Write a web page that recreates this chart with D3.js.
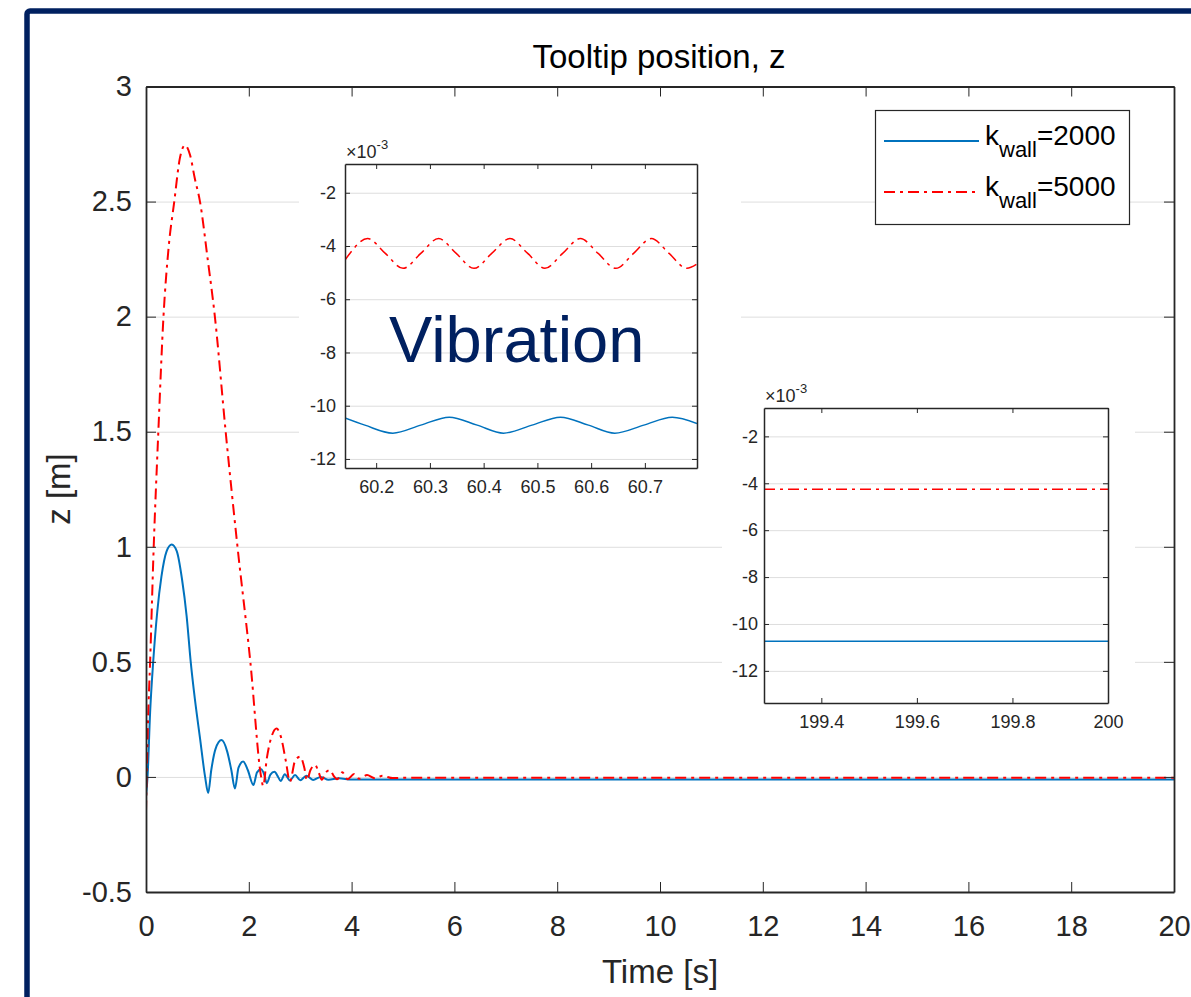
<!DOCTYPE html>
<html>
<head>
<meta charset="utf-8">
<script src="https://cdn.jsdelivr.net/npm/d3@7"></script>
<style>
  body { margin: 0; background: #fff; }
  svg text { font-family: "Liberation Sans", Arial, sans-serif; }
  .axis path, .axis line { stroke: #262626; }
  .axis text { fill: #262626; }
  .grid line { stroke: #dedede; }
  .grid path { display: none; }
</style>
</head>
<body>
<svg id="chart" width="1191" height="997"></svg>
<script>
// ---- data ----
const timeTicks = [0, 2, 4, 6, 8, 10, 12, 14, 16, 18, 20];
const zTicks = [-0.5, 0, 0.5, 1, 1.5, 2, 2.5, 3];

// [time s, z m]
const k2000 = [[0,-0.085],[0.03,0.0],[0.08,0.28],[0.14,0.5],[0.22,0.72],[0.3,0.87],[0.4,0.98],[0.5,1.01],
  [0.6,0.98],[0.7,0.86],[0.79,0.7],[0.87,0.5],[0.95,0.34],[1.05,0.17],[1.15,0.0],[1.21,-0.07],[1.27,0.03],
  [1.35,0.12],[1.47,0.16],[1.58,0.11],[1.66,0.03],[1.73,-0.05],[1.8,0.04],[1.89,0.067],[1.98,0.03],
  [2.09,-0.035],[2.16,0.02],[2.24,0.033],[2.3,0.01],[2.35,-0.027],[2.42,0.01],[2.5,0.022],[2.57,0.0],
  [2.62,-0.018],[2.7,0.012],[2.8,-0.015],[2.9,0.008],[3.0,-0.014],[3.12,0.005],[3.25,-0.013],[3.4,0.0],
  [3.55,-0.012],[3.75,-0.006],[4.0,-0.011],[20,-0.011]];
const k5000 = [[0,-0.15],[0.04,0.25],[0.08,0.5],[0.15,1.0],[0.24,1.5],[0.34,2.0],[0.44,2.3],[0.55,2.5],
  [0.66,2.69],[0.76,2.745],[0.86,2.7],[0.95,2.6],[1.05,2.5],[1.2,2.25],[1.34,2.0],[1.55,1.5],[1.78,1.0],
  [2.03,0.5],[2.24,0.0],[2.28,-0.04],[2.35,0.08],[2.45,0.18],[2.54,0.21],[2.63,0.17],[2.72,0.07],
  [2.8,-0.02],[2.9,0.07],[3.0,0.088],[3.08,0.04],[3.13,-0.015],[3.2,0.03],[3.29,0.052],[3.36,0.02],
  [3.42,-0.012],[3.5,0.02],[3.58,0.03],[3.65,0.005],[3.72,-0.01],[3.82,0.02],[3.92,-0.01],[4.05,0.013],
  [4.15,-0.008],[4.3,0.008],[4.45,-0.006],[4.6,0.005],[4.8,-0.005],[5.0,-0.004],[20,-0.004]];

// inset around t = 60 s (z in 1e-3 m)
const vibTicksX = [60.2, 60.3, 60.4, 60.5, 60.6, 60.7];
const vibTicksY = [-12, -10, -8, -6, -4, -2];
const vib2000 = [[60.142,-10.46],[60.179,-10.73],[60.231,-11.03],[60.283,-10.73],[60.336,-10.43],
  [60.388,-10.73],[60.437,-11.03],[60.49,-10.73],[60.543,-10.43],[60.595,-10.73],[60.644,-11.03],
  [60.698,-10.73],[60.751,-10.43],[60.797,-10.67]];
const vib5000 = [[60.142,-4.53],[60.151,-4.28],[60.184,-3.72],[60.217,-4.28],[60.25,-4.84],[60.283,-4.28],
  [60.316,-3.72],[60.349,-4.28],[60.382,-4.84],[60.415,-4.28],[60.449,-3.72],[60.482,-4.28],[60.514,-4.84],
  [60.547,-4.28],[60.58,-3.72],[60.613,-4.28],[60.646,-4.84],[60.679,-4.28],[60.712,-3.72],[60.745,-4.28],
  [60.778,-4.84],[60.797,-4.68]];

// inset at the end of the run
const endTicksX = [199.4, 199.6, 199.8, 200];
const endTicksY = [-12, -10, -8, -6, -4, -2];
const end2000 = [[199.28,-10.74],[200,-10.74]];
const end5000 = [[199.28,-4.26],[200,-4.26]];

const seriesK = ['2000', '5000'];

// ---- drawing ----
const svg = d3.select('#chart');
const FONT = '"Liberation Sans", Arial, sans-serif';
const styles = [
  { stroke: '#0072BD', dash: null },
  { stroke: '#FF0000', dash: '11,5,3,5' }
];

function panel(o) {
  const g = svg.append('g');
  const x = d3.scaleLinear().domain(o.xDomain).range([o.left, o.right]);
  const y = d3.scaleLinear().domain(o.yDomain).range([o.bottom, o.top]);
  const w = o.right - o.left;
  const h = o.bottom - o.top;

  if (o.bg) {
    g.append('rect').attr('x', o.bg[0]).attr('y', o.bg[1])
      .attr('width', o.bg[2] - o.bg[0]).attr('height', o.bg[3] - o.bg[1]).attr('fill', '#fff');
  }

  g.append('g').attr('class', 'grid')
    .attr('transform', `translate(${o.left},0)`)
    .call(d3.axisLeft(y).tickValues(o.yTicks).tickSize(-w).tickFormat(''));

  g.append('clipPath').attr('id', o.id)
    .append('rect').attr('x', o.left).attr('y', o.top).attr('width', w).attr('height', h);

  const line = d3.line().x(d => x(d[0])).y(d => y(d[1])).curve(d3.curveMonotoneX);
  o.series.forEach((s, i) => {
    g.append('path').datum(s)
      .attr('clip-path', `url(#${o.id})`)
      .attr('fill', 'none')
      .attr('stroke', styles[i].stroke)
      .attr('stroke-width', o.lw)
      .attr('stroke-dasharray', styles[i].dash)
      .attr('d', line);
  });

  const fmt = d => String(d);
  const axes = [
    [d3.axisBottom(x).tickValues(o.xTicks).tickFormat(fmt).tickPadding(o.xPad), `translate(0,${o.bottom})`],
    [d3.axisTop(x).tickValues(o.xTicks).tickFormat(''), `translate(0,${o.top})`],
    [d3.axisLeft(y).tickValues(o.yTicks).tickFormat(fmt).tickPadding(o.yPad), `translate(${o.left},0)`],
    [d3.axisRight(y).tickValues(o.yTicks).tickFormat(''), `translate(${o.right},0)`]
  ];
  axes.forEach(a => {
    g.append('g').attr('class', 'axis').attr('transform', a[1])
      .call(a[0].tickSizeInner(-o.tick).tickSizeOuter(0))
      .attr('font-size', o.font).attr('font-family', FONT)
      .selectAll('path').attr('stroke-width', o.bw);
  });

  if (o.exp) {
    const t = g.append('text').attr('x', o.left + 1).attr('y', o.top - 6)
      .attr('font-size', 18).attr('fill', '#262626');
    t.append('tspan').text('\u00d710');
    t.append('tspan').attr('dy', -9).attr('font-size', 13).text('-3');
  }
  return { g, x, y };
}

// main axes
panel({
  id: 'clipMain', left: 146, right: 1174, top: 86.5, bottom: 892,
  xDomain: [0, 20], yDomain: [-0.5, 3], xTicks: timeTicks, yTicks: zTicks,
  series: [k2000, k5000], lw: 2, tick: 10, font: 29, xPad: 23, yPad: 14, bw: 1.8
});

svg.append('text').attr('x', 659).attr('y', 68).attr('text-anchor', 'middle')
  .attr('font-size', 33).attr('fill', '#000').text('Tooltip position, z');
svg.append('text').attr('x', 660).attr('y', 983).attr('text-anchor', 'middle')
  .attr('font-size', 33).attr('fill', '#262626').text('Time [s]');
svg.append('text').attr('transform', 'translate(70,489) rotate(-90)').attr('text-anchor', 'middle')
  .attr('font-size', 33).attr('fill', '#262626').text('z [m]');

// legend
const leg = svg.append('g');
leg.append('rect').attr('x', 875.5).attr('y', 110.5).attr('width', 254).attr('height', 114)
  .attr('fill', '#fff').attr('stroke', '#262626').attr('stroke-width', 1.2);
seriesK.forEach((k, i) => {
  const yy = 141 + i * 51;
  leg.append('line').attr('x1', 884).attr('x2', 979).attr('y1', yy).attr('y2', yy)
    .attr('stroke', styles[i].stroke).attr('stroke-width', 2)
    .attr('stroke-dasharray', styles[i].dash);
  const t = leg.append('text').attr('x', 985).attr('y', yy + 4).attr('font-size', 28).attr('fill', '#000');
  t.append('tspan').text('k');
  t.append('tspan').attr('dy', 12).attr('font-size', 22).text('wall');
  t.append('tspan').attr('dy', -12).text('=' + k);
});

// inset: vibration around 60 s
panel({
  id: 'clipVib', left: 345, right: 697, top: 164, bottom: 468, bg: [299, 138, 741, 505],
  xDomain: [60.142, 60.797], yDomain: [-12.34, -0.92], xTicks: vibTicksX, yTicks: vibTicksY,
  series: [vib2000, vib5000], lw: 1.5, tick: 5, font: 18, xPad: 12, yPad: 9, bw: 1.5, exp: true
});
svg.append('text').attr('x', 389).attr('y', 362).attr('font-size', 65)
  .attr('fill', '#002060').text('Vibration');

// inset: end of the run
panel({
  id: 'clipEnd', left: 764, right: 1108, top: 408, bottom: 703, bg: [722, 382, 1135, 745],
  xDomain: [199.28, 200], yDomain: [-13.37, -0.79], xTicks: endTicksX, yTicks: endTicksY,
  series: [end2000, end5000], lw: 1.5, tick: 5, font: 18, xPad: 12, yPad: 6, bw: 1.5, exp: true
});

// slide frame
svg.append('rect').attr('x', 27).attr('y', 11).attr('width', 1400).attr('height', 1200)
  .attr('rx', 3).attr('fill', 'none').attr('stroke', '#002060').attr('stroke-width', 5.5);
</script>
</body>
</html>
